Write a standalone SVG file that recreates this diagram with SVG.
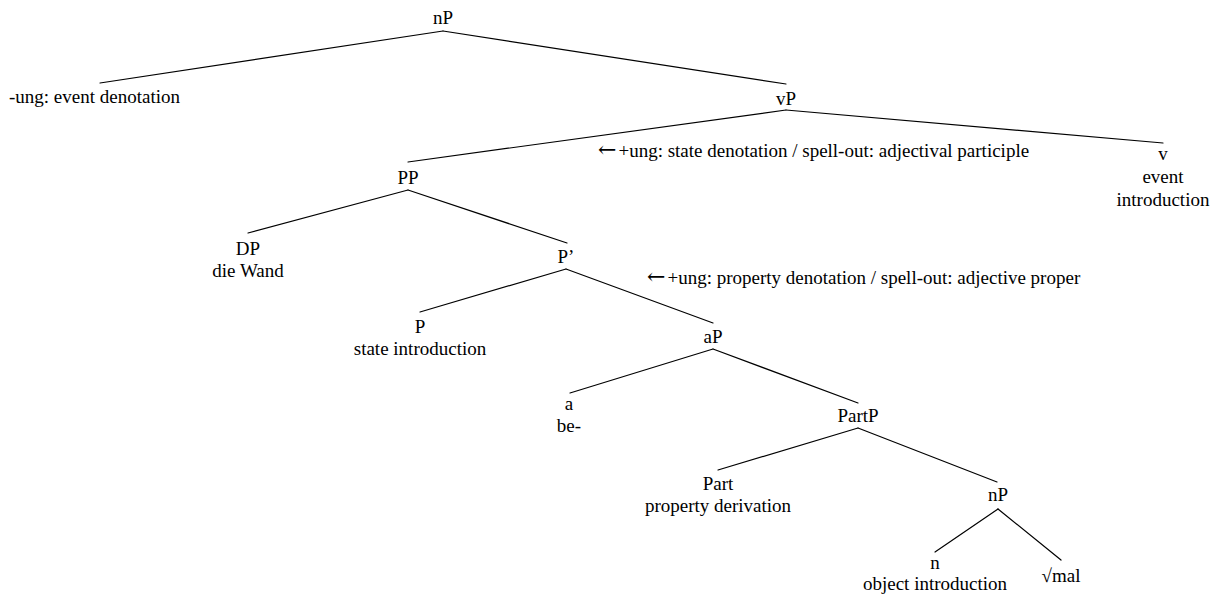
<svg xmlns="http://www.w3.org/2000/svg" width="1221" height="596" viewBox="0 0 1221 596">
<style>
text{font-family:'Liberation Serif','Tinos','Times New Roman','DejaVu Serif',serif;font-size:19px;fill:#000}
.m{text-anchor:middle}
.s{text-anchor:start}
.arr{font-family:'DejaVu Serif',serif;font-size:22px}
.rest{font-family:'Liberation Serif',serif;font-size:19px}
#edges line{stroke:#000;stroke-width:1.2;stroke-linecap:round}
</style>
<rect width="1221" height="596" fill="#fff"/>
<g id="edges">
<line x1="443" y1="31" x2="100" y2="83"/>
<line x1="443" y1="31" x2="786" y2="84"/>
<line x1="786" y1="110" x2="408" y2="162"/>
<line x1="786" y1="110" x2="1163" y2="143"/>
<line x1="408" y1="190" x2="248" y2="233"/>
<line x1="408" y1="190" x2="567" y2="243"/>
<line x1="566" y1="269" x2="420" y2="312"/>
<line x1="566" y1="269" x2="713" y2="323"/>
<line x1="713" y1="349" x2="570" y2="393"/>
<line x1="713" y1="349" x2="858" y2="403"/>
<line x1="858" y1="428" x2="718" y2="470"/>
<line x1="858" y1="428" x2="997" y2="482"/>
<line x1="998" y1="509" x2="935" y2="552"/>
<line x1="998" y1="509" x2="1061" y2="560"/>
</g>
<g font-family="Liberation Serif, serif" font-size="19">
<g id="n-nP-root"><text class="m" x="443" y="24">nP</text></g>
<g id="n-ung"><text class="s" x="9" y="103">-ung: event denotation</text></g>
<g id="n-vP"><text class="m" x="786" y="105">vP</text></g>
<g id="ann-1"><text class="s" x="598" y="157"><tspan class="arr">←</tspan><tspan class="rest" dx="2">+ung: state denotation / spell-out: adjectival participle</tspan></text></g>
<g id="n-v"><text class="m" x="1163" y="160">v</text><text class="m" x="1163" y="183">event</text><text class="m" x="1163" y="206">introduction</text></g>
<g id="n-PP"><text class="m" x="408" y="184">PP</text></g>
<g id="n-DP"><text class="m" x="248" y="255">DP</text><text class="m" x="248" y="277">die Wand</text></g>
<g id="n-Pbar"><text class="m" x="566" y="263">P’</text></g>
<g id="ann-2"><text class="s" x="647" y="284"><tspan class="arr">←</tspan><tspan class="rest" dx="2">+ung: property denotation / spell-out: adjective proper</tspan></text></g>
<g id="n-P"><text class="m" x="420" y="333">P</text><text class="m" x="420" y="355">state introduction</text></g>
<g id="n-aP"><text class="m" x="713" y="343">aP</text></g>
<g id="n-a"><text class="m" x="569" y="410">a</text><text class="m" x="569" y="432">be-</text></g>
<g id="n-PartP"><text class="m" x="858" y="422">PartP</text></g>
<g id="n-Part"><text class="m" x="718" y="490">Part</text><text class="m" x="718" y="512">property derivation</text></g>
<g id="n-nP"><text class="m" x="998" y="501">nP</text></g>
<g id="n-n"><text class="m" x="935" y="569">n</text><text class="m" x="935" y="590">object introduction</text></g>
<g id="n-root"><text class="m" x="1061" y="582">√mal</text></g>
</g>
</svg>
